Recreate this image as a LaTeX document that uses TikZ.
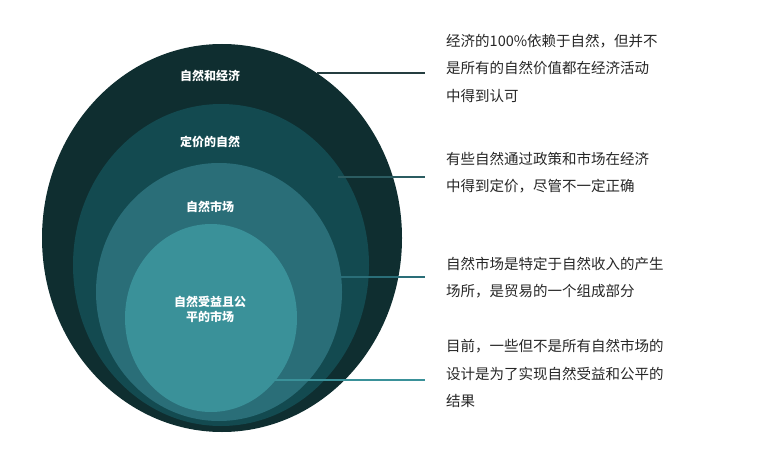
\documentclass[tikz,border=0pt]{standalone}
\usepackage{fontspec}
\newfontfamily\cjk{Noto Sans CJK SC}
\usetikzlibrary{positioning}
\definecolor{ringA}{HTML}{0F2E30}
\definecolor{ringB}{HTML}{134A50}
\definecolor{ringC}{HTML}{2A6E78}
\definecolor{ringD}{HTML}{3A9199}
\tikzset{
  inlabel/.style={font=\cjk\bfseries\fontsize{12}{15}\selectfont, text=white, align=center},
  note/.style={font=\cjk\fontsize{14.5}{27.5}\selectfont, text=black!85, align=left, anchor=north west, inner sep=0pt},
  leader/.style={line width=1.6pt}
}
\begin{document}
\begin{tikzpicture}[x=1pt,y=-1pt]
  \useasboundingbox (0,0) rectangle (767,454);
  \fill[ringA] (222,238) ellipse [x radius=180, y radius=194];
  \fill[ringB] (221,265) ellipse [x radius=148, y radius=161];
  \fill[ringC] (219,292) ellipse [x radius=123, y radius=129];
  \fill[ringD] (211,318) ellipse [x radius=86, y radius=94];
  \node[inlabel] (l1) at (210,76) {自然和经济};
  \node[inlabel] (l2) at (210,142) {定价的自然};
  \node[inlabel] (l3) at (210,207) {自然市场};
  \node[inlabel] (l4) at (210,309) {自然受益且公\\平的市场};
  \node[note] (n1) at (446,34) {经济的100\%依赖于自然，但并不\\是所有的自然价值都在经济活动\\中得到认可};
  \node[note] (n2) at (446,152) {有些自然通过政策和市场在经济\\中得到定价，尽管不一定正确};
  \node[note] (n3) at (446,257) {自然市场是特定于自然收入的产生\\场所，是贸易的一个组成部分};
  \node[note] (n4) at (446,339) {目前，一些但不是所有自然市场的\\设计是为了实现自然受益和公平的\\结果};
  \coordinate (e1) at (425,73);
  \coordinate (e2) at (425,177);
  \coordinate (e3) at (425,277);
  \coordinate (e4) at (425,380);
  \draw[leader, color=ringA!80!gray] (317,73) -- (e1);
  \draw[leader, color=ringB!90!white] (338,177) -- (e2);
  \draw[leader, color=ringC] (328,277) -- (e3);
  \draw[leader, color=ringD] (252,380) -- (e4);
\end{tikzpicture}
\end{document}
